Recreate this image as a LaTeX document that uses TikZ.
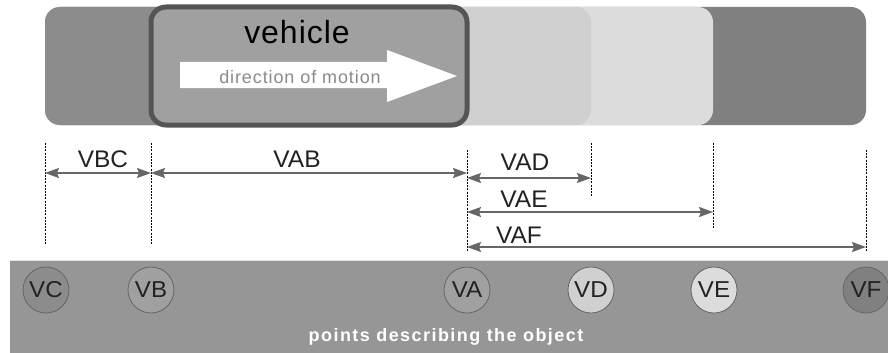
\documentclass[tikz,border=0pt]{standalone}
\usepackage{fontspec}
\setmainfont{Liberation Sans}
\newfontfamily\dimfont[FakeStretch=1.02]{Liberation Sans}
\newfontfamily\ptfont[FakeStretch=1.05]{Liberation Sans}
\newfontfamily\vehfont[LetterSpace=3]{Liberation Sans}
\newfontfamily\dirfont[LetterSpace=5]{Liberation Sans}
\newfontfamily\capfont[LetterSpace=8]{Liberation Sans}
\usetikzlibrary{arrows.meta}
\definecolor{cC}{HTML}{8C8C8C}
\definecolor{cAB}{HTML}{A0A0A0}
\definecolor{cD}{HTML}{D0D0D0}
\definecolor{cE}{HTML}{DCDCDC}
\definecolor{cF}{HTML}{808080}
\definecolor{band}{HTML}{969696}
\definecolor{vborder}{HTML}{555555}
\definecolor{dimgray}{HTML}{666666}
\definecolor{dirgray}{HTML}{8A8A8A}
\definecolor{txt}{HTML}{222222}
\tikzset{
  seg/.style={rounded corners=15pt, draw=none},
  guide/.style={draw=black, line width=1pt, dash pattern=on 2pt off 1.2pt},
  dimline/.style={draw=dimgray, line width=1.3pt, {Stealth[length=14pt,width=10pt,inset=2pt]}-{Stealth[length=14pt,width=10pt,inset=2pt]}},
  dimlabel/.style={font=\dimfont\fontsize{24}{26}\selectfont, text=txt, inner sep=0pt, anchor=base},
  pt/.style={circle, draw=dimgray, line width=0.8pt, minimum size=46pt, inner sep=0pt, font=\ptfont\fontsize{23}{24}\selectfont, text=txt}
}
\begin{document}
\begin{tikzpicture}[x=1pt,y=-1pt]
\useasboundingbox (0,0) rectangle (888,353);
% top bar segments
\fill[seg, cF] (45,7) rectangle (866,125);
\fill[seg, cE] (45,7) rectangle (713,125);
\fill[seg, cD] (45,7) rectangle (591,125);
\fill[seg, cC] (45,7) rectangle (300,125);
% vehicle
\node[draw=vborder, line width=5pt, fill=cAB, rounded corners=15pt, minimum width=316pt, minimum height=118pt, inner sep=0pt] (veh) at (309,66) {};
\node[font=\vehfont\fontsize{32}{33}\selectfont, text=black, anchor=base, inner sep=0pt] (vehlabel) at (297,44) {vehicle};
\fill[white] (180,62) -- (387,62) -- (387,50) -- (457,76) -- (387,102) -- (387,88) -- (180,88) -- cycle;
\node[font=\dirfont\fontsize{18}{20}\selectfont, text=dirgray, anchor=base, inner sep=0pt] (dirlabel) at (300,83) {direction of motion};
% guides
\coordinate (gCt) at (45,143); \coordinate (gCb) at (45,245);
\coordinate (gBt) at (151,143); \coordinate (gBb) at (151,245);
\coordinate (gAt) at (467,150); \coordinate (gAb) at (467,252);
\coordinate (gDt) at (591,143); \coordinate (gDb) at (591,197);
\coordinate (gEt) at (713,143); \coordinate (gEb) at (713,228);
\coordinate (gFt) at (866,150); \coordinate (gFb) at (866,252);
\foreach \g in {C,B,A,D,E,F} \draw[guide] (g\g t) -- (g\g b);
% dimension arrows
\coordinate (bcL) at (45,173); \coordinate (bcR) at (151,173);
\coordinate (abL) at (151,173); \coordinate (abR) at (467,173);
\coordinate (adL) at (467,178); \coordinate (adR) at (591,178);
\coordinate (aeL) at (467,212); \coordinate (aeR) at (713,212);
\coordinate (afL) at (467,247); \coordinate (afR) at (866,247);
\draw[dimline] (bcL) -- (bcR);
\draw[dimline] (abL) -- (abR);
\draw[dimline] (adL) -- (adR);
\draw[dimline] (aeL) -- (aeR);
\draw[dimline] (afL) -- (afR);
\node[dimlabel] (lVBC) at (103,167) {VBC};
\node[dimlabel] (lVAB) at (297,167) {VAB};
\node[dimlabel] (lVAD) at (525,170) {VAD};
\node[dimlabel] (lVAE) at (524,207) {VAE};
\node[dimlabel] (lVAF) at (519,243) {VAF};
% bottom band
\fill[band] (10,260) rectangle (888,353);
\draw[draw=white!75!band, line width=1pt] (10,260.5) -- (888,260.5);
\node[pt, fill=cC] (VC) at (46,290) {VC};
\node[pt, fill=cAB] (VB) at (151,290) {VB};
\node[pt, fill=cAB] (VA) at (467,290) {VA};
\node[pt, fill=cD] (VD) at (591,290) {VD};
\node[pt, fill=cE] (VE) at (714,290) {VE};
\node[pt, fill=cF] (VF) at (866,290) {VF};
\node[font=\capfont\bfseries\fontsize{18}{20}\selectfont, text=white, anchor=base, inner sep=0pt] (caption) at (446,341) {points describing the object};
\end{tikzpicture}
\end{document}
